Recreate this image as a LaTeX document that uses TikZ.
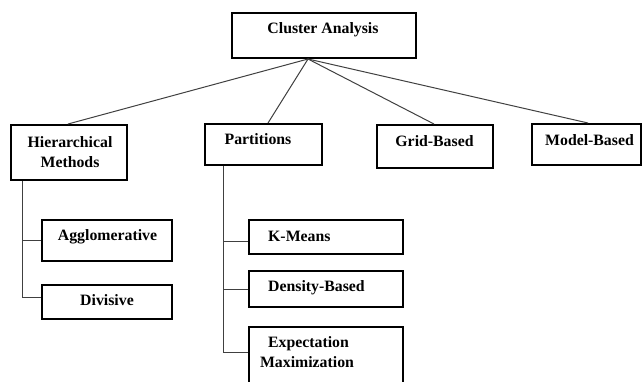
\documentclass[tikz,border=0pt]{standalone}
\usepackage{fontspec}
\setmainfont{Liberation Serif}
\begin{document}
\begin{tikzpicture}[x=1pt,y=-1pt,
  box/.style={draw=black,line width=2.4pt,fill=white,inner sep=0pt},
  conn/.style={draw=black!75,line width=1pt},
  lbl/.style={inner sep=0pt,font=\fontsize{15.8}{20}\selectfont\bfseries,text=black,align=center}]
\useasboundingbox (0,0) rectangle (644,381);
\node[box,minimum width=183.6pt,minimum height=44.6pt] (ca) at (324,35.5) {};
\node[box,minimum width=115.6pt,minimum height=54.6pt] (hier) at (69,152.5) {};
\node[box,minimum width=116.6pt,minimum height=40.6pt] (part) at (263.5,144.5) {};
\node[box,minimum width=115.6pt,minimum height=42.6pt] (grid) at (435,146.5) {};
\node[box,minimum width=108.6pt,minimum height=40.6pt] (model) at (586.5,144.5) {};
\node[box,minimum width=129.6pt,minimum height=40.6pt] (agg) at (107,240.5) {};
\node[box,minimum width=129.6pt,minimum height=33.6pt] (div) at (107,302) {};
\node[box,minimum width=153.6pt,minimum height=33.6pt] (km) at (326,237) {};
\node[box,minimum width=153.6pt,minimum height=35.6pt] (db) at (326,289) {};
\node[box,minimum width=153.6pt,minimum height=71.6pt] (em) at (326,363) {};
% connectors
\coordinate (caj) at ([xshift=-16pt]ca.south);
\draw[conn] (caj) -- ([xshift=-1pt]hier.north);
\draw[conn] (caj) -- ([xshift=4.5pt]part.north);
\draw[conn] (caj) -- ([xshift=-1pt]grid.north);
\draw[conn] (caj) -- ([xshift=1.5pt]model.north);
\coordinate (ht) at ([xshift=-47pt]hier.south);
\draw[conn] (ht) |- ([yshift=5pt]div.west);
\draw[conn] (agg.west -| ht) -- (agg.west);
\coordinate (pt) at ([xshift=-40.5pt]part.south);
\draw[conn] (pt) |- ([yshift=11pt]em.west);
\draw[conn] ([yshift=-4pt]km.west -| pt) -- ([yshift=-4pt]km.west);
\draw[conn] (db.west -| pt) -- (db.west);
% labels
\node[lbl,anchor=base] (tca) at (323,33) {Cluster Analysis};
\node[lbl,anchor=base] (th1) at (70,147) {Hierarchical};
\node[lbl,anchor=base] (th2) at (70,167) {Methods};
\node[lbl,anchor=base] (tpa) at (258,144) {Partitions};
\node[lbl,anchor=base] (tgr) at (434.5,146) {Grid-Based};
\node[lbl,anchor=base] (tmo) at (589.5,145) {Model-Based};
\node[lbl,anchor=base] (tag) at (107.5,240.7) {Agglomerative};
\node[lbl,anchor=base] (tdi) at (107,305.7) {Divisive};
\node[lbl,anchor=base west] (tkm) at (268,241.7) {K-Means};
\node[lbl,anchor=base west] (tdb) at (268,291.7) {Density-Based};
\node[lbl,anchor=base] (te1) at (308.5,347.7) {Expectation};
\node[lbl,anchor=base] (te2) at (307,367.7) {Maximization};
\end{tikzpicture}
\end{document}
